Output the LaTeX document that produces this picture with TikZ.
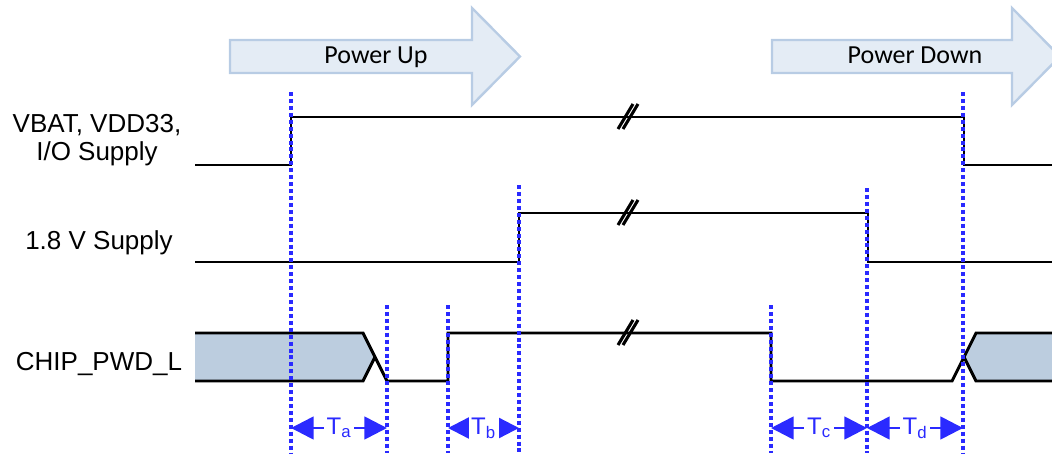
\documentclass[tikz,border=0pt]{standalone}
\usepackage{fontspec}
\setmainfont{Liberation Sans}
\newfontfamily\calib{Carlito}
\usetikzlibrary{arrows.meta}
\definecolor{arrfill}{HTML}{E4ECF5}
\definecolor{arrdraw}{HTML}{B8CCE4}
\definecolor{busfill}{HTML}{BCCDDF}
\definecolor{guide}{HTML}{2A2AFF}
\begin{document}
\begin{tikzpicture}[x=0.75pt,y=-0.75pt,
  sig/.style={line width=2.2pt, line join=miter},
  guideline/.style={guide, line width=2.4pt, dash pattern=on 3pt off 2.2pt},
  phase/.style={fill=arrfill, draw=arrdraw, line width=1.8pt},
  lbl/.style={font=\fontsize{19.5}{23}\selectfont, anchor=base, inner sep=0},
  ph/.style={font=\calib\fontsize{19.5}{23}\selectfont, anchor=base, inner sep=0},
  dim/.style={guide, line width=2pt, {Triangle[length=17pt,width=17pt]}-{Triangle[length=17pt,width=17pt]}},
  dimlbl/.style={guide, fill=white, inner sep=2pt, font=\fontsize{18}{20}\selectfont},
  brk/.style={line width=2.3pt}
]
\useasboundingbox (0,0) rectangle (1052,453);
\clip (0,0) rectangle (1052,453);

% phase arrows
\draw[phase] (230,40) -- (472,40) -- (472,8) -- (520,56.5) -- (472,105) -- (472,73) -- (230,73) -- cycle;
\node[ph] (pu) at (376,64) {Power Up};
\draw[phase] (772,40) -- (1012,40) -- (1012,8) -- (1060,56.5) -- (1012,105) -- (1012,73) -- (772,73) -- cycle;
\node[ph] (pd) at (915,64) {Power Down};

% labels
\node[lbl] (l1a) at (97,132) {VBAT, VDD33,};
\node[lbl] (l1b) at (97,160) {I/O Supply};
\node[lbl] (l2) at (99,249) {1.8 V Supply};
\node[lbl] (l3) at (99,370) {CHIP\_PWD\_L};

% signals
\draw[sig] (195,165) -- (291,165) -- (291,117) -- (964,117) -- (964,165) -- (1052,165);
\draw[sig] (195,262) -- (519,262) -- (519,213) -- (868,213) -- (868,262) -- (1052,262);
\fill[busfill] (195,333) -- (363,333) -- (375,357) -- (363,381) -- (195,381) -- cycle;
\fill[busfill] (964,357) -- (976,333) -- (1052,333) -- (1052,381) -- (976,381) -- cycle;
\draw[sig] (195,333) -- (363,333) -- (387,381) -- (448,381) -- (448,333) -- (771,333) -- (771,381) -- (952,381) -- (976,333) -- (1052,333);
\draw[sig] (195,381) -- (363,381) -- (375,357);
\draw[sig] (964,357) -- (976,381) -- (1052,381);

% break marks
\foreach \yy in {117,213,333}{
  \draw[brk] (618,\yy+12) -- (633,\yy-13);
  \draw[brk] (623,\yy+12) -- (638,\yy-13);
}

% guide lines
\coordinate (g1) at (291,92);
\coordinate (g2) at (387,305);
\coordinate (g3) at (448,305);
\coordinate (g4) at (519,185);
\coordinate (g5) at (771,305);
\coordinate (g6) at (867,188);
\coordinate (g7) at (963,92);
\foreach \g in {g1,g2,g3,g4,g5,g6,g7}{
  \draw[guideline] (\g) -- (\g |- 0,453);
}

% timing intervals
\draw[dim] (g1 |- 0,428) -- (g2 |- 0,428) node[midway, dimlbl] (ta) {T\textsubscript{a}};
\draw[dim] (g3 |- 0,428) -- (g4 |- 0,428) node[midway, dimlbl] (tb) {T\textsubscript{b}};
\draw[dim] (g5 |- 0,428) -- (g6 |- 0,428) node[midway, dimlbl] (tc) {T\textsubscript{c}};
\draw[dim] (g6 |- 0,428) -- (g7 |- 0,428) node[midway, dimlbl] (td) {T\textsubscript{d}};
\end{tikzpicture}
\end{document}
